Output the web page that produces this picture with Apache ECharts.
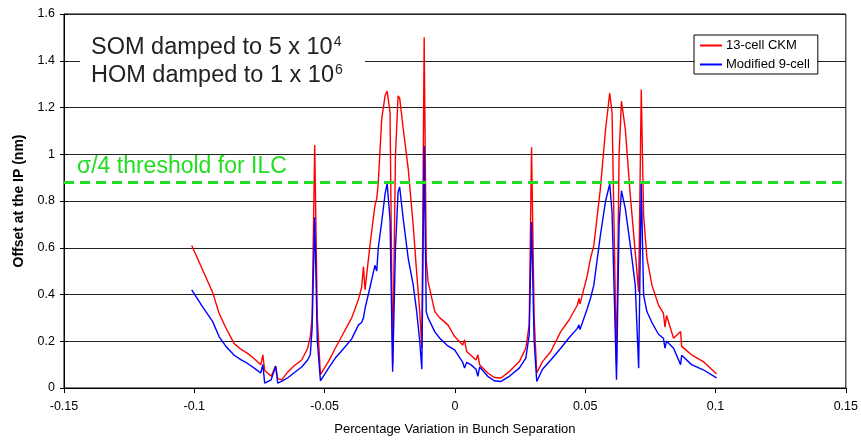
<!DOCTYPE html>
<html>
<head>
<meta charset="utf-8">
<script src="https://cdn.jsdelivr.net/npm/echarts@6/dist/echarts.min.js"></script>
<style>
  html, body { margin: 0; padding: 0; background: #fff; }
  #chart { width: 861px; height: 441px; }
</style>
</head>
<body>
<div id="chart"></div>
<script>
  // x positions (percentage variation) shared by both curves
  var xs = [
    -0.101, -0.097, -0.093, -0.0905, -0.088, -0.0847, -0.082, -0.0797, -0.077, -0.0745,
    -0.0737, -0.073, -0.0705, -0.0688, -0.068, -0.0665, -0.064, -0.0618, -0.0588, -0.0565,
    -0.0555, -0.0548, -0.0538, -0.0528, -0.0516, -0.0485, -0.0459, -0.043, -0.0396, -0.037,
    -0.0358, -0.0351, -0.0345, -0.0326, -0.0307, -0.030, -0.0294, -0.0281, -0.0268, -0.026,
    -0.0249, -0.0239, -0.0228, -0.0218, -0.0212, -0.0198, -0.0179, -0.016, -0.0147, -0.0135,
    -0.0127, -0.0118, -0.011, -0.0103, -0.009, -0.0077, -0.0058, -0.0027, -0.0001, 0.003,
    0.0037, 0.0045, 0.0061, 0.0081, 0.0088, 0.0095, 0.0126, 0.0151, 0.0177, 0.0209,
    0.0247, 0.0272, 0.0285, 0.0294, 0.0304, 0.0314, 0.0336, 0.0368, 0.0406, 0.0438,
    0.047, 0.0476, 0.048, 0.0508, 0.052, 0.0533, 0.0558, 0.0578, 0.0594, 0.0603,
    0.062, 0.063, 0.0639, 0.0654, 0.0673, 0.0692, 0.0705, 0.0715, 0.0724, 0.0737,
    0.0756, 0.0781, 0.080, 0.0806, 0.0812, 0.0839, 0.0866, 0.087, 0.0908, 0.0953,
    0.1004
  ]
  // 13-cell CKM
  var ckm = [
    0.61, 0.51, 0.41, 0.32, 0.26, 0.19, 0.165, 0.149, 0.125, 0.099,
    0.142, 0.075, 0.05, 0.094, 0.04, 0.035, 0.07, 0.094, 0.12, 0.17,
    0.22, 0.30, 1.04, 0.30, 0.057, 0.114, 0.17, 0.23, 0.30, 0.38,
    0.43, 0.52, 0.42, 0.61, 0.78, 0.81, 0.88, 1.15, 1.25, 1.27,
    1.18, 0.10, 1.0, 1.25, 1.24, 1.106, 0.936, 0.695, 0.497, 0.326,
    0.17, 1.50, 0.55, 0.455, 0.39, 0.327, 0.30, 0.27, 0.22, 0.184,
    0.206, 0.156, 0.14, 0.12, 0.142, 0.099, 0.064, 0.045, 0.043, 0.071,
    0.113, 0.17, 0.27, 1.03, 0.30, 0.064, 0.113, 0.156, 0.241, 0.291,
    0.355, 0.383, 0.36, 0.482, 0.553, 0.61, 0.851, 1.106, 1.262, 1.177,
    0.10, 1.0, 1.227, 1.106, 0.823, 0.58, 0.411, 1.277, 0.737, 0.553,
    0.44, 0.355, 0.32, 0.26, 0.31, 0.213, 0.242, 0.178, 0.142, 0.113,
    0.06
  ]
  // Modified 9-cell
  var nine = [
    0.42, 0.35, 0.285, 0.22, 0.18, 0.14, 0.12, 0.106, 0.085, 0.064,
    0.10, 0.021, 0.035, 0.094, 0.021, 0.028, 0.045, 0.064, 0.09, 0.12,
    0.142, 0.255, 0.73, 0.20, 0.031, 0.085, 0.128, 0.165, 0.21, 0.27,
    0.28, 0.30, 0.34, 0.43, 0.525, 0.50, 0.60, 0.71, 0.83, 0.875,
    0.72, 0.07, 0.60, 0.84, 0.86, 0.72, 0.553, 0.44, 0.33, 0.20,
    0.08, 1.035, 0.326, 0.30, 0.27, 0.24, 0.213, 0.18, 0.163, 0.11,
    0.085, 0.11, 0.10, 0.08, 0.05, 0.09, 0.05, 0.031, 0.028, 0.05,
    0.085, 0.128, 0.227, 0.71, 0.20, 0.028, 0.08, 0.12, 0.17, 0.215,
    0.255, 0.27, 0.25, 0.34, 0.383, 0.44, 0.652, 0.80, 0.872, 0.75,
    0.035, 0.70, 0.844, 0.766, 0.61, 0.44, 0.085, 0.88, 0.397, 0.326,
    0.28, 0.23, 0.213, 0.17, 0.20, 0.17, 0.10, 0.14, 0.10, 0.078,
    0.043
  ]
  var threshold = 0.875

  function pairs(ys) {
    return xs.map(function (x, i) { return [x, ys[i]] })
  }

  var chart = echarts.init(document.getElementById('chart'))
  var font = 'Liberation Sans, Arial, sans-serif'

  chart.setOption({
    animation: false,
    textStyle: { fontFamily: font },
    grid: {
      left: 64, right: 15, top: 14, bottom: 51,
      show: true, borderColor: '#000', borderWidth: 1
    },
    legend: {
      orient: 'vertical',
      left: 694, top: 35,
      icon: 'rect',
      itemWidth: 22, itemHeight: 2, itemGap: 6,
      padding: [4, 8, 3, 6],
      backgroundColor: '#fff',
      borderColor: '#000', borderWidth: 1,
      textStyle: { fontSize: 13, color: '#000', fontFamily: font, padding: [0, 0, 0, -1] },
      data: ['13-cell CKM', 'Modified 9-cell']
    },
    xAxis: {
      type: 'value',
      min: -0.15, max: 0.15, interval: 0.05,
      name: 'Percentage Variation in Bunch Separation',
      nameLocation: 'middle', nameGap: 35,
      nameTextStyle: { fontSize: 13, color: '#000' },
      axisLine: { onZero: false, lineStyle: { color: '#000' } },
      axisTick: { length: 5, lineStyle: { color: '#000' } },
      axisLabel: { fontSize: 12.5, color: '#000', margin: 12 },
      splitLine: { show: false }
    },
    yAxis: [{
      type: 'value',
      min: 0, max: 1.6, interval: 0.2,
      name: 'Offset at the IP (nm)',
      nameLocation: 'middle', nameGap: 38,
      nameTextStyle: { fontSize: 14, color: '#000', fontWeight: 'bold' },
      axisLine: { show: true, onZero: false, lineStyle: { color: '#000' } },
      axisTick: { show: true, length: 4, lineStyle: { color: '#000' } },
      axisLabel: { fontSize: 12.5, color: '#000', margin: 9 },
      splitLine: { lineStyle: { color: '#222', width: 1 } }
    }, {
      // inner half of the cross ticks
      type: 'value', position: 'left',
      min: 0, max: 1.6, interval: 0.2,
      axisLine: { show: false, onZero: false },
      axisTick: { show: true, inside: true, length: 4, lineStyle: { color: '#000' } },
      axisLabel: { show: false },
      splitLine: { show: false }
    }],
    series: [{
      name: '13-cell CKM',
      type: 'line',
      data: pairs(ckm),
      symbol: 'none',
      lineStyle: { color: '#ff0000', width: 1.4 },
      itemStyle: { color: '#ff0000' },
      markLine: {
        silent: true,
        symbol: 'none',
        label: { show: false },
        lineStyle: { color: '#22dd22', width: 3, type: [10, 6] },
        data: [{ yAxis: threshold }]
      }
    }, {
      name: 'Modified 9-cell',
      type: 'line',
      data: pairs(nine),
      symbol: 'none',
      lineStyle: { color: '#0000ff', width: 1.4 },
      itemStyle: { color: '#0000ff' }
    }],
    graphic: [{
      type: 'rect',
      shape: { x: 80, y: 36, width: 285, height: 52 },
      style: { fill: '#fff' },
      z: 10
    }, {
      type: 'text',
      left: 91, top: 35,
      z: 11,
      style: {
        text: '{m|SOM damped to 5 x 10}{s|4}\n{m|HOM damped to 1 x 10}{s|6}',
        rich: {
          m: { fontSize: 23.5, fontFamily: font, fill: '#222', lineHeight: 28 },
          s: { fontSize: 14, fontFamily: font, fill: '#222', padding: [0, 0, 11, 1] }
        }
      }
    }, {
      type: 'text',
      left: 77, top: 155,
      z: 11,
      style: {
        text: 'σ/4 threshold for ILC',
        fontSize: 23, fontFamily: font, fill: '#22dd22'
      }
    }]
  })
</script>
</body>
</html>
